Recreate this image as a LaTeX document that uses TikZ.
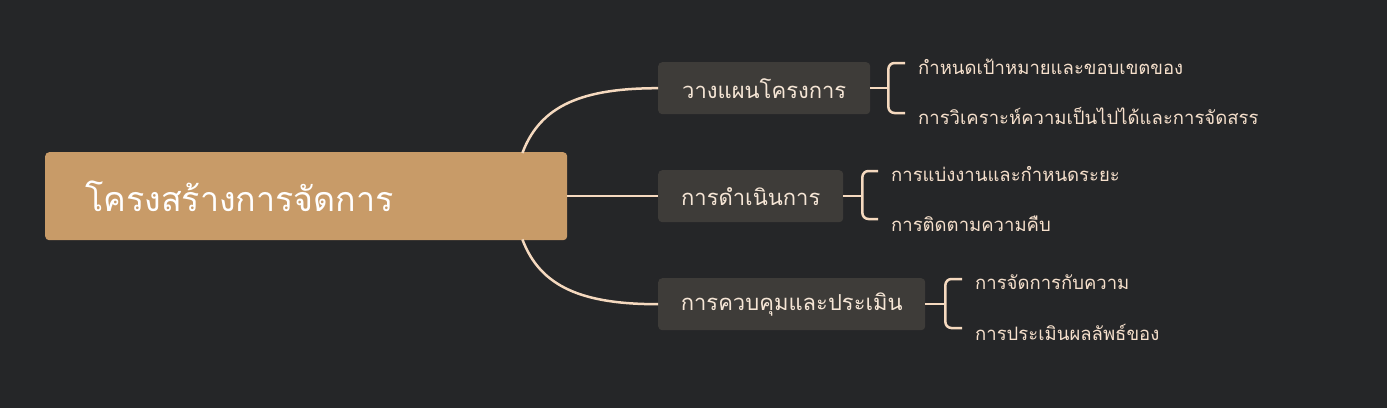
\documentclass[tikz,border=0pt]{standalone}
\usepackage{fontspec}
\newfontfamily\thai[Script=Thai]{Loma}
\usetikzlibrary{calc}
\definecolor{bg}{HTML}{252628}
\definecolor{rootfill}{HTML}{C89B68}
\definecolor{boxfill}{HTML}{3E3C39}
\definecolor{linec}{HTML}{F5D9BF}
\definecolor{boxtext}{HTML}{F6E6D6}
\definecolor{leaftext}{HTML}{F6E0CC}
\tikzset{
  rootbox/.style={fill=rootfill, rounded corners=4pt, minimum height=88pt, text width=442pt, inner xsep=40pt, align=left, text=white, font=\thai\fontsize{34}{40}\selectfont, anchor=north west},
  topicbox/.style={fill=boxfill, rounded corners=4pt, minimum height=52pt, inner xsep=0pt, text=boxtext, font=\thai\fontsize{22}{26}\selectfont, anchor=north west},
  leaf/.style={anchor=west, inner sep=0pt, text=leaftext, font=\thai\fontsize{18.5}{22}\selectfont},
  conn/.style={draw=linec, line width=2.5pt},
  brk/.style={draw=linec, line width=2.5pt, rounded corners=6pt}
}
\begin{document}
\begin{tikzpicture}[x=1pt,y=-1pt]
\fill[bg] (0,0) rectangle (1387,408);
\useasboundingbox (0,0) rectangle (1387,408);
% root
\node[rootbox] (root) at (45,152) {โครงสร้างการจัดการ};
% topics
\node[topicbox, minimum width=212pt] (a) at (658,62) {วางแผนโครงการ};
\node[topicbox, minimum width=185pt] (b) at (658,170) {การดำเนินการ};
\node[topicbox, minimum width=267pt] (c) at (658,278) {การควบคุมและประเมิน};
% leaves
\node[leaf] (a1) at (918,67) {กำหนดเป้าหมายและขอบเขตของ};
\node[leaf] (a2) at (918,116) {การวิเคราะห์ความเป็นไปได้และการจัดสรร};
\node[leaf] (b1) at (891,174) {การแบ่งงานและกำหนดระยะ};
\node[leaf] (b2) at (891,224) {การติดตามความคืบ};
\node[leaf] (c1) at (975,282) {การจัดการกับความ};
\node[leaf] (c2) at (975,332) {การประเมินผลลัพธ์ของ};
% root connectors
\draw[conn] ($(root.north east)+(-45,1)$) .. controls ($(root.north east)+(-27,-47)$) and ($(a.west)+(-75,0)$) .. (a.west);
\draw[conn] (root.east |- b.west) -- (b.west);
\draw[conn] ($(root.south east)+(-45,-1)$) .. controls ($(root.south east)+(-27,47)$) and ($(c.west)+(-75,0)$) .. (c.west);
% brackets
\draw[conn] (a.east) -- ++(18,0) coordinate (ak);
\draw[brk] ($(a1.west)+(-13,-4)$) -- (ak |- {$(a1.west)+(0,-4)$}) -- (ak |- {$(a2.west)+(0,-3)$}) -- ($(a2.west)+(-13,-3)$);
\draw[conn] (b.east) -- ++(19,0) coordinate (bk);
\draw[brk] ($(b1.west)+(-13,-3)$) -- (bk |- {$(b1.west)+(0,-3)$}) -- (bk |- {$(b2.west)+(0,-5)$}) -- ($(b2.west)+(-13,-5)$);
\draw[conn] (c.east) -- ++(20,0) coordinate (ck);
\draw[brk] ($(c1.west)+(-13,-3)$) -- (ck |- {$(c1.west)+(0,-3)$}) -- (ck |- {$(c2.west)+(0,-4)$}) -- ($(c2.west)+(-13,-4)$);
\end{tikzpicture}
\end{document}
